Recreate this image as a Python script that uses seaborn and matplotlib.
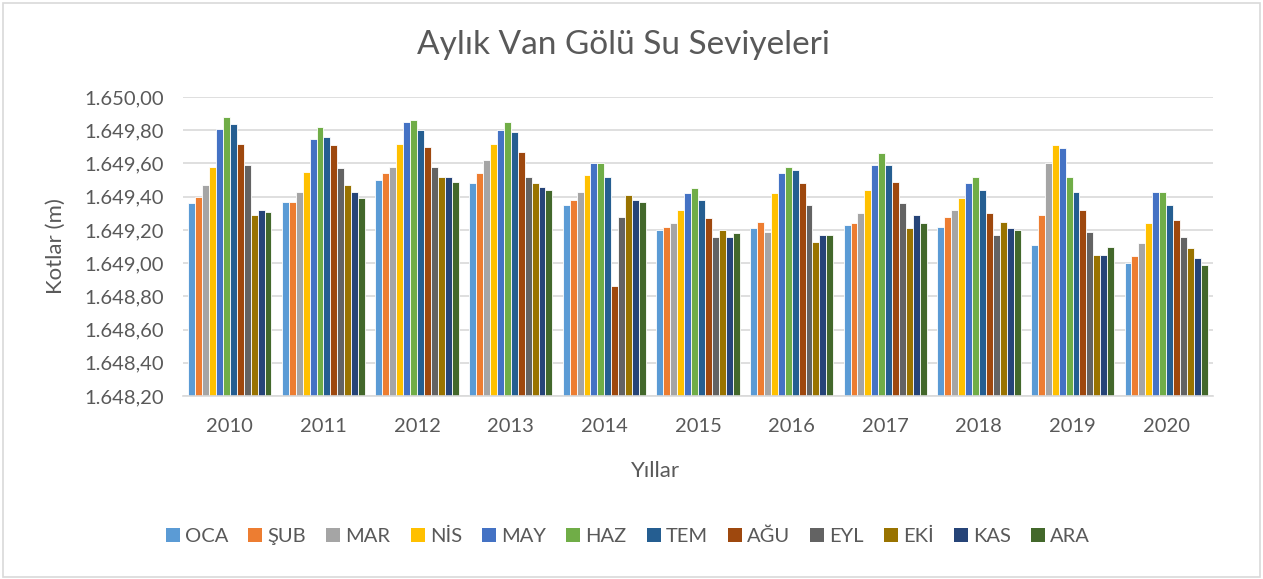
import numpy as np
import pandas as pd
import matplotlib
matplotlib.use("Agg")
import matplotlib.pyplot as plt
from matplotlib.ticker import FuncFormatter, MultipleLocator
from matplotlib.patches import Rectangle, Patch
import seaborn as sns

years = ["2010", "2011", "2012", "2013", "2014", "2015", "2016", "2017", "2018", "2019", "2020"]
months = ["OCA", "ŞUB", "MAR", "NİS", "MAY", "HAZ", "TEM", "AĞU", "EYL", "EKİ", "KAS", "ARA"]

y2010 = [1649.36, 1649.40, 1649.47, 1649.58, 1649.81, 1649.88, 1649.84, 1649.72, 1649.59, 1649.29, 1649.32, 1649.31]
y2011 = [1649.37, 1649.37, 1649.43, 1649.55, 1649.75, 1649.82, 1649.76, 1649.71, 1649.57, 1649.47, 1649.43, 1649.39]
y2012 = [1649.50, 1649.54, 1649.58, 1649.72, 1649.85, 1649.86, 1649.80, 1649.70, 1649.58, 1649.52, 1649.52, 1649.49]
y2013 = [1649.48, 1649.54, 1649.62, 1649.72, 1649.80, 1649.85, 1649.79, 1649.67, 1649.52, 1649.48, 1649.46, 1649.44]
y2014 = [1649.35, 1649.38, 1649.43, 1649.53, 1649.60, 1649.60, 1649.52, 1648.86, 1649.28, 1649.41, 1649.38, 1649.37]
y2015 = [1649.20, 1649.22, 1649.24, 1649.32, 1649.42, 1649.45, 1649.38, 1649.27, 1649.16, 1649.20, 1649.16, 1649.18]
y2016 = [1649.21, 1649.25, 1649.19, 1649.42, 1649.54, 1649.58, 1649.56, 1649.48, 1649.35, 1649.13, 1649.17, 1649.17]
y2017 = [1649.23, 1649.24, 1649.30, 1649.44, 1649.59, 1649.66, 1649.59, 1649.49, 1649.36, 1649.21, 1649.29, 1649.24]
y2018 = [1649.22, 1649.28, 1649.32, 1649.39, 1649.48, 1649.52, 1649.44, 1649.30, 1649.17, 1649.25, 1649.21, 1649.20]
y2019 = [1649.11, 1649.29, 1649.60, 1649.71, 1649.69, 1649.52, 1649.43, 1649.32, 1649.19, 1649.05, 1649.05, 1649.10]
y2020 = [1649.00, 1649.04, 1649.12, 1649.24, 1649.43, 1649.43, 1649.35, 1649.26, 1649.16, 1649.09, 1649.03, 1648.99]

series = [y2010, y2011, y2012, y2013, y2014, y2015, y2016, y2017, y2018, y2019, y2020]

colors = ["#5B9BD5", "#ED7D31", "#A5A5A5", "#FFC000", "#4472C4", "#70AD47",
          "#255E91", "#9E480E", "#636363", "#997300", "#264478", "#43682B"]

rows = []
for yr, vals in zip(years, series):
    for m, v in zip(months, vals):
        rows.append({"Yıl": yr, "Ay": m, "Kot": v})
df = pd.DataFrame(rows)

sns.set_theme(style="white")
plt.rcParams["font.family"] = ["Lato", "DejaVu Sans"]
txt = "#595959"

fig = plt.figure(figsize=(12.63, 5.79), dpi=100)
ax = fig.add_axes([183/1263, 1-396/579, (1213-183)/1263, (396-97)/579])

BASE = 1648.2
sns.barplot(data=df, x="Yıl", y="Kot", hue="Ay", order=years, hue_order=months,
            palette=colors, width=0.89, ax=ax, legend=False,
            edgecolor="white", linewidth=0.6, saturation=1, errorbar=None)

# bars should start at axis bottom
for p in ax.patches:
    h = p.get_height()
    p.set_y(BASE)
    p.set_height(h - BASE)

ax.set_ylim(BASE, 1650.0)
ax.yaxis.set_major_locator(MultipleLocator(0.2))

def trfmt(v, pos):
    s = f"{v:,.2f}"
    return s.replace(",", "X").replace(".", ",").replace("X", ".")
ax.yaxis.set_major_formatter(FuncFormatter(trfmt))

ax.grid(axis="y", color="#D9D9D9", linewidth=1.2)
ax.set_axisbelow(True)
for s in ["top", "right", "left"]:
    ax.spines[s].set_visible(False)
ax.spines["bottom"].set_color("#D9D9D9")
ax.spines["bottom"].set_linewidth(1.2)
ax.tick_params(axis="both", length=0, labelsize=14.5, colors=txt)
ax.tick_params(axis="y", pad=14)
ax.tick_params(axis="x", pad=16)
ax.set_xlabel("")
ax.set_ylabel("")
ax.set_xlim(-0.5, len(years) - 0.5)

fig.text(623/1263, 1-45/579, "Aylık Van Gölü Su Seviyeleri", ha="center", va="center",
         fontsize=24, color=txt)
fig.text(656/1263, 1-471/579, "Yıllar", ha="center", va="center", fontsize=16, color=txt)
fig.text(56/1263, 1-246/579, "Kotlar (m)", ha="center", va="center", rotation=90,
         fontsize=16, color=txt)

handles = [Patch(facecolor=c, edgecolor="none") for c in colors]
fig.legend(handles, months, loc="center", bbox_to_anchor=(628/1263, 1-536/579), ncol=12,
           frameon=False, fontsize=14.5, handlelength=0.7, handleheight=0.7,
           handletextpad=0.25, columnspacing=1.0, labelcolor=txt)

fig.add_artist(Rectangle((3/1263, 2/579), 1257/1263, 574/579, transform=fig.transFigure,
                         fill=False, edgecolor="#D9D9D9", linewidth=1.2))

fig.savefig("out.png", dpi=100, facecolor="white")
